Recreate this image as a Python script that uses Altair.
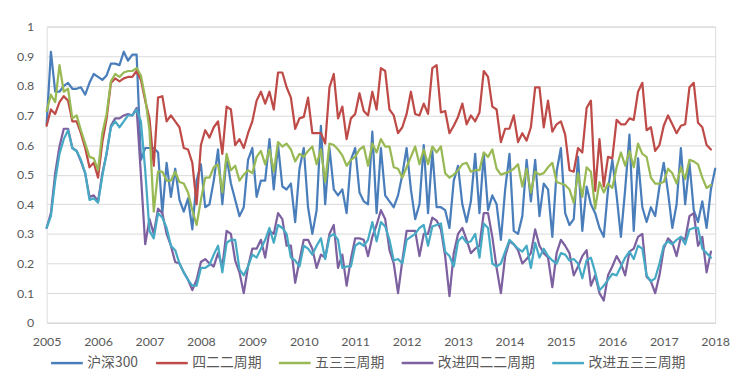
import altair as alt
import pandas as pd

series_names = ["沪深300", "四二二周期", "五三三周期", "改进四二二周期", "改进五三三周期"]
colors = ["#4A7EBB", "#BE4B48", "#98B954", "#7D60A0", "#46AAC5"]
start_year = 2005
year_ticks = list(range(2005, 2019))
y_ticks = [0, 0.1, 0.2, 0.3, 0.4, 0.5, 0.6, 0.7, 0.8, 0.9, 1]

hs300 = [
    0.67, 0.915, 0.78, 0.78, 0.80, 0.81, 0.79, 0.79, 0.795, 0.77, 0.81, 0.84, 0.83, 0.82, 0.835, 0.875, 0.875, 0.87, 0.915, 0.885,
    0.905, 0.905, 0.55, 0.59, 0.59, 0.59, 0.575, 0.37, 0.54, 0.425, 0.52, 0.415, 0.375, 0.42, 0.315, 0.48, 0.535, 0.39, 0.40, 0.48,
    0.585, 0.40, 0.56, 0.47, 0.415, 0.36, 0.39, 0.55, 0.59, 0.425, 0.48, 0.48, 0.62, 0.45, 0.60, 0.46, 0.45, 0.47, 0.34, 0.52,
    0.59, 0.39, 0.30, 0.38, 0.665, 0.40, 0.59, 0.45, 0.43, 0.45, 0.37, 0.55, 0.59, 0.44, 0.41, 0.40, 0.645, 0.37, 0.59, 0.43,
    0.41, 0.39, 0.43, 0.50, 0.59, 0.45, 0.35, 0.40, 0.60, 0.37, 0.58, 0.39, 0.39, 0.38, 0.32, 0.48, 0.53, 0.40, 0.34, 0.41,
    0.57, 0.37, 0.57, 0.38, 0.43, 0.40, 0.28, 0.45, 0.57, 0.31, 0.30, 0.36, 0.55, 0.41, 0.55, 0.36, 0.47, 0.45, 0.29, 0.51,
    0.59, 0.37, 0.33, 0.35, 0.56, 0.31, 0.46, 0.40, 0.37, 0.32, 0.29, 0.45, 0.55, 0.43, 0.29, 0.45, 0.635, 0.31, 0.555, 0.39,
    0.34, 0.39, 0.36, 0.46, 0.54, 0.44, 0.32, 0.40, 0.59, 0.40, 0.54, 0.38, 0.34, 0.41, 0.32, 0.45, 0.52,
]
cycle422 = [
    0.665, 0.72, 0.705, 0.745, 0.765, 0.75, 0.68, 0.68, 0.64, 0.59, 0.525, 0.54, 0.49, 0.61, 0.69, 0.81, 0.825, 0.815, 0.825, 0.83,
    0.83, 0.85, 0.82, 0.75, 0.69, 0.53, 0.76, 0.765, 0.68, 0.70, 0.68, 0.66, 0.59, 0.585, 0.54, 0.40, 0.60, 0.65, 0.625, 0.66,
    0.68, 0.57, 0.73, 0.72, 0.60, 0.62, 0.59, 0.64, 0.68, 0.75, 0.78, 0.74, 0.78, 0.72, 0.845, 0.845, 0.795, 0.76, 0.655, 0.69,
    0.695, 0.76, 0.64, 0.64, 0.64, 0.605, 0.795, 0.84, 0.69, 0.73, 0.62, 0.69, 0.705, 0.775, 0.715, 0.70, 0.78, 0.72, 0.86, 0.85,
    0.72, 0.70, 0.64, 0.66, 0.705, 0.78, 0.705, 0.70, 0.74, 0.705, 0.86, 0.87, 0.71, 0.715, 0.64, 0.665, 0.695, 0.74, 0.67, 0.70,
    0.68, 0.71, 0.85, 0.83, 0.73, 0.72, 0.61, 0.655, 0.655, 0.70, 0.61, 0.64, 0.615, 0.66, 0.795, 0.795, 0.66, 0.75, 0.645, 0.67,
    0.68, 0.635, 0.515, 0.51, 0.59, 0.575, 0.725, 0.75, 0.445, 0.62, 0.46, 0.56, 0.555, 0.685, 0.67, 0.67, 0.69, 0.685, 0.78, 0.81,
    0.65, 0.66, 0.58, 0.60, 0.665, 0.70, 0.67, 0.64, 0.665, 0.67, 0.795, 0.81, 0.675, 0.66, 0.60, 0.585,
]
cycle533 = [
    0.715, 0.77, 0.745, 0.87, 0.78, 0.79, 0.69, 0.70, 0.65, 0.605, 0.56, 0.555, 0.515, 0.64, 0.705, 0.815, 0.84, 0.83, 0.845, 0.85,
    0.85, 0.86, 0.835, 0.76, 0.65, 0.375, 0.51, 0.51, 0.48, 0.48, 0.51, 0.475, 0.47, 0.44, 0.38, 0.33, 0.415, 0.49, 0.49, 0.525,
    0.535, 0.44, 0.57, 0.515, 0.53, 0.48, 0.50, 0.515, 0.505, 0.56, 0.58, 0.535, 0.585, 0.51, 0.61, 0.595, 0.605, 0.585, 0.545, 0.57,
    0.56, 0.58, 0.595, 0.535, 0.585, 0.475, 0.605, 0.60, 0.585, 0.565, 0.53, 0.55, 0.56, 0.585, 0.595, 0.53, 0.605, 0.575, 0.62, 0.595,
    0.595, 0.525, 0.52, 0.49, 0.525, 0.56, 0.595, 0.535, 0.585, 0.535, 0.595, 0.575, 0.595, 0.505, 0.49, 0.50, 0.515, 0.535, 0.54, 0.51,
    0.515, 0.515, 0.575, 0.56, 0.585, 0.52, 0.50, 0.505, 0.51, 0.52, 0.535, 0.46, 0.52, 0.44, 0.51, 0.50, 0.505, 0.525, 0.54, 0.475,
    0.47, 0.465, 0.45, 0.405, 0.505, 0.425, 0.525, 0.51, 0.385, 0.475, 0.44, 0.47, 0.455, 0.525, 0.575, 0.53, 0.58, 0.525, 0.605, 0.57,
    0.56, 0.49, 0.47, 0.47, 0.475, 0.52, 0.505, 0.47, 0.525, 0.485, 0.55, 0.545, 0.535, 0.49, 0.455, 0.465,
]
improved422 = [
    0.32, 0.37, 0.505, 0.595, 0.655, 0.655, 0.59, 0.58, 0.545, 0.505, 0.425, 0.43, 0.41, 0.505, 0.57, 0.665, 0.69, 0.69, 0.70, 0.705,
    0.70, 0.725, 0.50, 0.265, 0.35, 0.30, 0.385, 0.37, 0.30, 0.26, 0.205, 0.20, 0.17, 0.145, 0.11, 0.145, 0.205, 0.215, 0.20, 0.19,
    0.235, 0.19, 0.31, 0.30, 0.21, 0.17, 0.10, 0.19, 0.25, 0.25, 0.28, 0.22, 0.31, 0.30, 0.37, 0.35, 0.26, 0.26, 0.135, 0.21,
    0.28, 0.28, 0.25, 0.185, 0.23, 0.22, 0.30, 0.33, 0.185, 0.23, 0.125, 0.215, 0.285, 0.285, 0.28, 0.225, 0.29, 0.33, 0.38, 0.35,
    0.245, 0.20, 0.10, 0.21, 0.31, 0.31, 0.31, 0.225, 0.30, 0.30, 0.355, 0.345, 0.315, 0.225, 0.09, 0.235, 0.30, 0.32, 0.28, 0.235,
    0.25, 0.26, 0.37, 0.37, 0.29, 0.185, 0.10, 0.225, 0.275, 0.265, 0.245, 0.20, 0.215, 0.235, 0.315, 0.26, 0.235, 0.22, 0.12, 0.235,
    0.28, 0.26, 0.235, 0.16, 0.19, 0.225, 0.245, 0.125, 0.16, 0.10, 0.075, 0.16, 0.19, 0.225, 0.20, 0.16, 0.24, 0.25, 0.29, 0.30,
    0.155, 0.14, 0.10, 0.16, 0.25, 0.285, 0.27, 0.225, 0.29, 0.28, 0.36, 0.37, 0.26, 0.29, 0.17, 0.24,
]
improved533 = [
    0.32, 0.36, 0.48, 0.57, 0.62, 0.65, 0.59, 0.58, 0.55, 0.505, 0.415, 0.42, 0.405, 0.495, 0.575, 0.66, 0.68, 0.66, 0.68, 0.70,
    0.70, 0.72, 0.68, 0.515, 0.31, 0.285, 0.37, 0.355, 0.32, 0.26, 0.245, 0.20, 0.17, 0.145, 0.125, 0.125, 0.185, 0.185, 0.195, 0.23,
    0.26, 0.17, 0.27, 0.28, 0.28, 0.18, 0.16, 0.19, 0.23, 0.22, 0.25, 0.28, 0.32, 0.27, 0.33, 0.32, 0.30, 0.22, 0.21, 0.19,
    0.26, 0.25, 0.23, 0.26, 0.285, 0.215, 0.29, 0.30, 0.28, 0.185, 0.19, 0.19, 0.26, 0.27, 0.26, 0.28, 0.34, 0.275, 0.34, 0.325,
    0.28, 0.21, 0.215, 0.20, 0.28, 0.29, 0.30, 0.32, 0.33, 0.26, 0.325, 0.33, 0.335, 0.24, 0.225, 0.19, 0.275, 0.29, 0.27, 0.275,
    0.30, 0.22, 0.335, 0.32, 0.20, 0.19, 0.20, 0.24, 0.28, 0.265, 0.25, 0.24, 0.26, 0.185, 0.27, 0.22, 0.25, 0.225, 0.21, 0.20,
    0.235, 0.23, 0.21, 0.215, 0.20, 0.15, 0.21, 0.22, 0.17, 0.11, 0.125, 0.145, 0.165, 0.16, 0.19, 0.22, 0.24, 0.215, 0.26, 0.25,
    0.16, 0.14, 0.15, 0.20, 0.26, 0.275, 0.265, 0.28, 0.29, 0.265, 0.315, 0.32, 0.32, 0.25, 0.235, 0.22,
]

all_series = [hs300, cycle422, cycle533, improved422, improved533]
rows = []
for name, vals in zip(series_names, all_series):
    for i, v in enumerate(vals):
        rows.append({"t": start_year + i / 12.0, "series": name, "v": v, "idx": i})
df = pd.DataFrame(rows)

axis_font = "Lato"
label_color = "#595959"
grid_color = "#D9D9D9"

chart = alt.Chart(df).mark_line(strokeWidth=2.25, strokeJoin="round", strokeCap="round").encode(
    x=alt.X(
        "t:Q",
        scale=alt.Scale(domain=[2005, 2018], nice=False, zero=False),
        axis=alt.Axis(
            values=year_ticks, format="d", title=None, grid=False, ticks=False,
            domainColor=grid_color, domainWidth=1,
            labelPadding=13, labelFont=axis_font, labelFontSize=12.5,
            labelColor=label_color, labelFlush=False,
        ),
    ),
    y=alt.Y(
        "v:Q",
        scale=alt.Scale(domain=[0, 1], nice=False, zero=True),
        axis=alt.Axis(
            values=y_ticks, format=".1~f", title=None, domain=False, ticks=False,
            gridColor=grid_color, gridWidth=1,
            labelPadding=13, labelFont=axis_font, labelFontSize=12.5,
            labelColor=label_color,
        ),
    ),
    color=alt.Color(
        "series:N",
        scale=alt.Scale(domain=series_names, range=colors),
        legend=alt.Legend(
            title=None, orient="none", legendX=3, legendY=322,
            direction="horizontal", columns=5,
            symbolType="stroke", symbolSize=1024, symbolStrokeWidth=2.5,
            labelFont="Noto Sans CJK SC", labelFontSize=14, labelColor=label_color,
            labelOffset=3, columnPadding=12,
        ),
    ),
    order="idx:Q",
).properties(
    width=675,
    height=299,
    autosize=alt.AutoSizeParams(type="none"),
    padding={"left": 39, "top": 17, "right": 18, "bottom": 50},
).configure_view(stroke=None).configure(background="white")

chart.save("out.html", embed_options={"renderer": "svg", "actions": False})
